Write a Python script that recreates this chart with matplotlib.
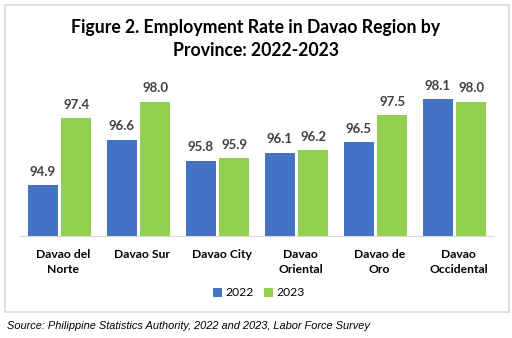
import matplotlib.pyplot as plt
import numpy as np
from matplotlib.patches import Rectangle

# === Data ===
provinces = ["Davao del\nNorte", "Davao Sur", "Davao City", "Davao\nOriental",
             "Davao de\nOro", "Davao\nOccidental"]
rate_2022 = [94.9, 96.6, 95.8, 96.1, 96.5, 98.1]
rate_2023 = [97.4, 98.0, 95.9, 96.2, 97.5, 98.0]
years = ["2022", "2023"]

blue = "#4472C4"
green = "#92D050"

fig = plt.figure(figsize=(5.12, 3.38), dpi=100)

# outer frame around the chart area
fig.patches.append(Rectangle((5 / 512, 1 - 312 / 338), 504 / 512, 307 / 338,
                             transform=fig.transFigure, fill=False,
                             edgecolor="#D9D9D9", lw=1.2))

ax = fig.add_axes([20 / 512, 1 - 236 / 338, 474 / 512, 147.4 / 338])

x = np.arange(len(provinces))
w = 0.38
off = 0.215
b1 = ax.bar(x - off, rate_2022, w, color=blue, label=years[0])
b2 = ax.bar(x + off, rate_2023, w, color=green, label=years[1])

for bars, vals in [(b1, rate_2022), (b2, rate_2023)]:
    for rect, v in zip(bars, vals):
        ax.text(rect.get_x() + rect.get_width() / 2, v + 0.28, f"{v:.1f}",
                ha="center", va="bottom", fontsize=9.5, fontweight="bold",
                color="#404040", family="Lato")

ax.set_xlim(-0.5, 5.5)
ax.set_ylim(93.0, 98.5)
ax.set_yticks([])
ax.set_xticks([])
for s in ["top", "right", "left"]:
    ax.spines[s].set_visible(False)
ax.spines["bottom"].set_color("#D9D9D9")

for xi, name in zip(x, provinces):
    ax.text(xi + 0.05, 92.5, name, ha="center", va="top", fontsize=8.7,
            fontweight="bold", family="Lato", linespacing=1.35,
            multialignment="center")

fig.text(0.5, 1 - 27 / 338, "Figure 2. Employment Rate in Davao Region by",
         ha="center", va="center", fontsize=12.7, fontweight="bold", family="Lato")
fig.text(0.5, 1 - 50 / 338, "Province: 2022-2023",
         ha="center", va="center", fontsize=12.7, fontweight="bold", family="Lato")

fig.legend(handles=[b1, b2], labels=years, loc="center",
           bbox_to_anchor=(259 / 512, 1 - 293 / 338), ncol=2, frameon=False,
           handlelength=0.75, handleheight=0.75, handletextpad=0.3,
           columnspacing=0.8, prop={"family": "Lato", "size": 8.7})

fig.text(7 / 512, 1 - 326 / 338,
         "Source: Philippine Statistics Authority, 2022 and 2023, Labor Force Survey",
         ha="left", va="center", fontsize=7.9, style="italic",
         family="Liberation Sans")

fig.savefig("out.png", dpi=100)
